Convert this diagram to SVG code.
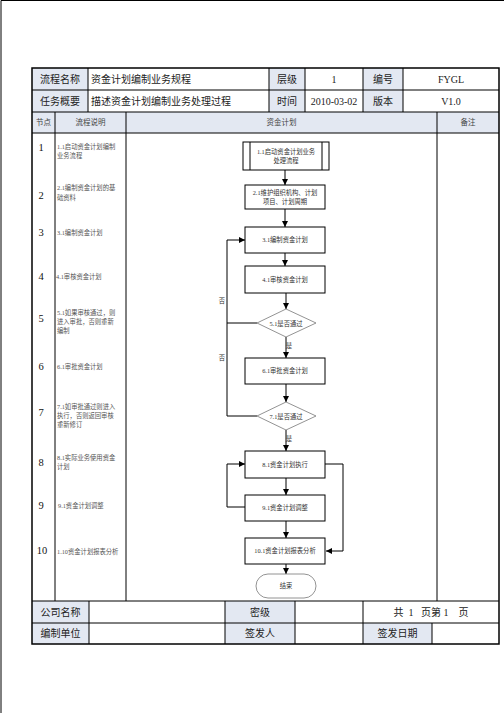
<svg xmlns="http://www.w3.org/2000/svg" width="504" height="713" viewBox="0 0 504 713">
<style>
.t{font-family:"Liberation Serif","Noto Sans CJK SC",serif;fill:#222}
.h{font-size:10px;text-anchor:middle}
.hl{font-size:10px}
.s{font-size:7.5px;text-anchor:middle;fill:#444}
.n{font-size:10.5px;text-anchor:middle;fill:#111}
.d{font-size:6.3px;fill:#555}
.b{font-size:6.3px;text-anchor:middle;fill:#333}
.sh{fill:#e3e8f2}
.ln{stroke:#000;stroke-width:1;fill:none}
.box{fill:#fff;stroke:#000;stroke-width:1}
.dia{fill:#fff;stroke:#777;stroke-width:0.8}
.c{stroke:#000;stroke-width:1;fill:none}
</style>
<defs>
<marker id="ah" viewBox="0 0 10 10" refX="10" refY="5" markerWidth="6" markerHeight="6" markerUnits="userSpaceOnUse" orient="auto">
<path d="M0,0 L10,5 L0,10 z" fill="#000"/>
</marker>
</defs>
<rect width="504" height="713" fill="#fff"/>
<!-- page border -->
<path d="M1,713 V0.5 H504" class="ln"/>

<g id="table">
<rect x="32" y="68" width="56" height="44" class="sh"/>
<rect x="269" y="68" width="36" height="44" class="sh"/>
<rect x="363" y="68" width="40" height="44" class="sh"/>
<rect x="32" y="112" width="405" height="21" class="sh"/>
<rect x="437" y="112" width="62" height="21" class="sh"/>
<rect x="32" y="601" width="57" height="43" class="sh"/>
<rect x="225" y="601" width="70" height="43" class="sh"/>
<rect x="363" y="623" width="69" height="21" class="sh"/>
<path class="ln" d="M32,90 H499 M32,112 H499 M32,133 H499 M32,601 H499 M32,623 H499"/>
<path class="ln" d="M88,68 V112 M269,68 V112 M305,68 V112 M363,68 V112 M403,68 V112"/>
<path class="ln" d="M55,112 V601 M126,112 V601 M437,112 V601"/>
<path class="ln" d="M89,601 V644 M225,601 V644 M295,601 V644 M363,601 V644 M432,623 V644"/>
<rect x="32" y="68" width="467" height="576" fill="none" stroke="#000" stroke-width="1.5"/>
<text class="t h" x="60" y="83">流程名称</text>
<text class="t hl" x="91" y="83">资金计划编制业务规程</text>
<text class="t h" x="287" y="83">层级</text>
<text class="t h" x="334" y="83">1</text>
<text class="t h" x="383" y="83">编号</text>
<text class="t h" x="451" y="83">FYGL</text>
<text class="t h" x="60" y="105">任务概要</text>
<text class="t hl" x="91" y="105">描述资金计划编制业务处理过程</text>
<text class="t h" x="287" y="105">时间</text>
<text class="t h" x="334" y="105">2010-03-02</text>
<text class="t h" x="383" y="105">版本</text>
<text class="t h" x="451" y="105">V1.0</text>
<text class="t s" x="43.5" y="125">节点</text>
<text class="t s" x="90.5" y="125">流程说明</text>
<text class="t s" x="281.5" y="125">资金计划</text>
<text class="t s" x="468" y="125">备注</text>
<text class="t h" x="60.5" y="616">公司名称</text>
<text class="t h" x="260" y="616">密级</text>
<text class="t h" x="431" y="616" style="white-space:pre">共  1   页第 1    页</text>
<text class="t h" x="60.5" y="637">编制单位</text>
<text class="t h" x="260" y="637">签发人</text>
<text class="t h" x="397.5" y="637">签发日期</text>
</g>

<g id="steps">
<text class="t n" x="41" y="151">1</text>
<text class="t n" x="41" y="199">2</text>
<text class="t n" x="41" y="236">3</text>
<text class="t n" x="41" y="280">4</text>
<text class="t n" x="41" y="322">5</text>
<text class="t n" x="41" y="370">6</text>
<text class="t n" x="41" y="416">7</text>
<text class="t n" x="41" y="466">8</text>
<text class="t n" x="41" y="509">9</text>
<text class="t n" x="42" y="554">10</text>
<text class="t d" x="57" y="149">1.1启动资金计划编制</text>
<text class="t d" x="57" y="158">业务流程</text>
<text class="t d" x="57" y="190">2.1编制资金计划的基</text>
<text class="t d" x="57" y="200">础资料</text>
<text class="t d" x="57" y="235">3.1编制资金计划</text>
<text class="t d" x="56" y="279">4.1审核资金计划</text>
<text class="t d" x="57" y="315">5.1如果审核通过，则</text>
<text class="t d" x="57" y="324">进入审批，否则重新</text>
<text class="t d" x="57" y="333">编制</text>
<text class="t d" x="57" y="369">6.1审批资金计划</text>
<text class="t d" x="57" y="409">7.1如审批通过则进入</text>
<text class="t d" x="57" y="418">执行，否则返回审核</text>
<text class="t d" x="57" y="427">重新修订</text>
<text class="t d" x="57" y="460">8.1实际业务使用资金</text>
<text class="t d" x="57" y="469">计划</text>
<text class="t d" x="58" y="508">9.1资金计划调整</text>
<text class="t d" x="57" y="554">1.10资金计划报表分析</text>
</g>

<g id="connectors">
<path class="c" d="M285,170 V185" marker-end="url(#ah)"/>
<path class="c" d="M285,209 V227" marker-end="url(#ah)"/>
<path class="c" d="M285,253 V266" marker-end="url(#ah)"/>
<path class="c" d="M286,293 V309" marker-end="url(#ah)"/>
<path class="c" d="M257,323 H227 V240 H245" marker-end="url(#ah)"/>
<path class="c" d="M257,416 H227 V323"/>
<path class="c" d="M286,337 V358" marker-end="url(#ah)"/>
<path class="c" d="M286,384 V402" marker-end="url(#ah)"/>
<path class="c" d="M286,430 V451" marker-end="url(#ah)"/>
<path class="c" d="M286,478 V495" marker-end="url(#ah)"/>
<path class="c" d="M245,507 H227 V464 H245" marker-end="url(#ah)"/>
<path class="c" d="M325,464 H343 V551 H326" marker-end="url(#ah)"/>
<path class="c" d="M286,521 V538" marker-end="url(#ah)"/>
<path class="c" d="M286,564 V574" marker-end="url(#ah)"/>
<text class="t b" x="222" y="303">否</text>
<text class="t b" x="222" y="360">否</text>
<text class="t b" x="289" y="348">是</text>
<text class="t b" x="289" y="441">是</text>
</g>

<g id="n1">
<rect class="box" x="243" y="142" width="86" height="28"/>
<path class="ln" d="M250,142 V170 M322,142 V170"/>
<text class="t b" x="286" y="154">1.1启动资金计划业务</text>
<text class="t b" x="286" y="163">处理流程</text>
</g>
<g id="n2">
<rect class="box" x="245" y="185" width="80" height="24"/>
<text class="t b" x="285" y="195">2.1维护组织机构、计划</text>
<text class="t b" x="285" y="204">项目、计划周期</text>
</g>
<g id="n3">
<rect class="box" x="245" y="227" width="80" height="26"/>
<text class="t b" x="285" y="242">3.1编制资金计划</text>
</g>
<g id="n4">
<rect class="box" x="245" y="266" width="80" height="27"/>
<text class="t b" x="285" y="282">4.1审核资金计划</text>
</g>
<g id="n5">
<polygon class="dia" points="286,309 316,323 286,337 257,323"/>
<text class="t b" x="286" y="325.5">5.1是否通过</text>
</g>
<g id="n6">
<rect class="box" x="245" y="358" width="80" height="26"/>
<text class="t b" x="285" y="373">6.1审批资金计划</text>
</g>
<g id="n7">
<polygon class="dia" points="286,402 316,416 286,430 257,416"/>
<text class="t b" x="286" y="418.5">7.1是否通过</text>
</g>
<g id="n8">
<rect class="box" x="245" y="451" width="80" height="27"/>
<text class="t b" x="285" y="467">8.1资金计划执行</text>
</g>
<g id="n9">
<rect class="box" x="245" y="495" width="80" height="26"/>
<text class="t b" x="285" y="510">9.1资金计划调整</text>
</g>
<g id="n10">
<rect class="box" x="245" y="538" width="80" height="26"/>
<text class="t b" x="285" y="553">10.1资金计划报表分析</text>
</g>
<g id="end">
<rect x="256" y="574" width="60" height="24" rx="12" fill="#fff" stroke="#777" stroke-width="0.8"/>
<text class="t b" x="286" y="588">结束</text>
</g>
</svg>
